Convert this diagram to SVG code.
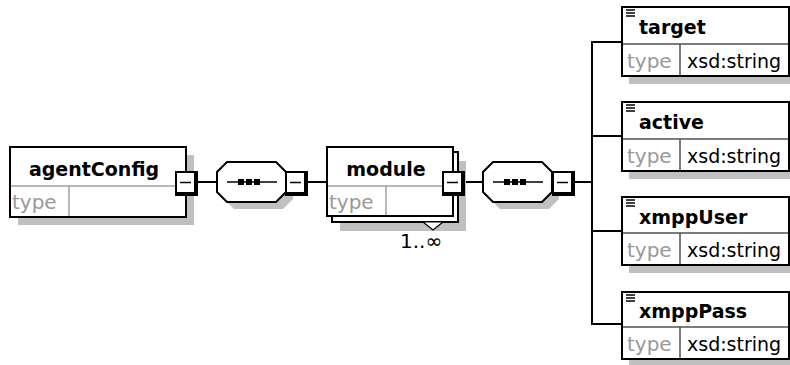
<svg xmlns="http://www.w3.org/2000/svg" xmlns:xlink="http://www.w3.org/1999/xlink" width="790" height="365" viewBox="0 0 790 365">
<style>
  .bg{fill:#ffffff}
  .shadow{fill:#c0c0c0;stroke:none}
  .box{fill:#ffffff;stroke:#000000;stroke-width:2}
  .sep{stroke:#a0a0a0;stroke-width:1.5;fill:none}
  .sepd{stroke:#505050;stroke-width:1.5;fill:none}
  .conn{stroke:#000000;stroke-width:2;fill:none}
  .name{font-family:"DejaVu Sans","Liberation Sans",sans-serif;font-size:19px;font-weight:bold;fill:#000}
  .type{font-family:"DejaVu Sans","Liberation Sans",sans-serif;font-size:20px;fill:#999999}
  .val{font-family:"DejaVu Sans","Liberation Sans",sans-serif;font-size:19px;fill:#000}
  .card{font-family:"DejaVu Sans","Liberation Sans",sans-serif;font-size:20px;fill:#000}
</style>
<defs>
  <g id="minus">
    <rect x="0" y="0" width="23" height="25" fill="#000"/>
    <rect x="2" y="2" width="17" height="19" fill="#fff"/>
    <line x1="5" y1="11.5" x2="16" y2="11.5" stroke="#000" stroke-width="1.5"/>
  </g>
  <g id="seq">
    <polygon points="10,0 59,0 69,10 69,30 59,40 10,40 0,30 0,10" class="box"/>
    <line x1="10" y1="20" x2="60" y2="20" stroke="#000" stroke-width="1.5"/>
    <rect x="21" y="17" width="6" height="6" fill="#000"/>
    <rect x="29" y="17" width="6" height="6" fill="#000"/>
    <rect x="37" y="17" width="6" height="6" fill="#000"/>
  </g>
  <polygon id="seqShadow" points="10,0 59,0 69,10 69,30 59,40 10,40 0,30 0,10" class="shadow"/>
  <g id="icon">
    <line x1="0" y1="0" x2="9" y2="0" stroke="#000" stroke-width="1.5"/>
    <line x1="0" y1="3" x2="9" y2="3" stroke="#000" stroke-width="1.5"/>
    <line x1="0" y1="6" x2="9" y2="6" stroke="#000" stroke-width="1.5"/>
  </g>
</defs>
<rect x="0" y="0" width="790" height="365" class="bg"/>

<g id="connectors">
  <line x1="197" y1="182" x2="217" y2="182" class="conn"/>
  <line x1="307" y1="182" x2="327" y2="182" class="conn"/>
  <line x1="464" y1="182" x2="483" y2="182" class="conn"/>
  <line x1="574" y1="182" x2="593" y2="182" class="conn"/>
  <line x1="592" y1="41" x2="592" y2="325" class="conn"/>
  <line x1="591" y1="42" x2="622" y2="42" class="conn"/>
  <line x1="591" y1="136" x2="622" y2="136" class="conn"/>
  <line x1="591" y1="231" x2="622" y2="231" class="conn"/>
  <line x1="591" y1="324" x2="622" y2="324" class="conn"/>
</g>

<g id="agentConfig">
  <rect x="18" y="155" width="176" height="70" class="shadow"/>
  <rect x="10" y="147" width="176" height="70" class="box"/>
  <line x1="11" y1="186" x2="185" y2="186" class="sep"/>
  <line x1="69" y1="186" x2="69" y2="216" class="sep"/>
  <text x="94" y="176" class="name" text-anchor="middle">agentConfig</text>
  <text x="12" y="209" class="type">type</text>
  <use xlink:href="#minus" x="175" y="171"/>
</g>

<g id="sequence1">
  <use xlink:href="#seqShadow" x="224" y="169"/>
  <use xlink:href="#seq" x="217" y="162"/>
  <use xlink:href="#minus" x="285" y="171"/>
</g>

<g id="module">
  <rect x="340" y="161" width="126" height="70" class="shadow"/>
  <rect x="332" y="152" width="126" height="70" class="box"/>
  <rect x="327" y="147" width="126" height="69" class="box"/>
  <line x1="328" y1="186" x2="452" y2="186" class="sep"/>
  <line x1="386" y1="186" x2="386" y2="215" class="sep"/>
  <text x="386" y="176" class="name" text-anchor="middle">module</text>
  <text x="329" y="209" class="type">type</text>
  <use xlink:href="#minus" x="442" y="171"/>
  <polygon points="423,222 443,222 433,230" fill="#fff" stroke="#000" stroke-width="1.2"/>
  <text x="400" y="248" class="card">1..∞</text>
</g>

<g id="sequence2">
  <use xlink:href="#seqShadow" x="490" y="169"/>
  <use xlink:href="#seq" x="483" y="162"/>
  <use xlink:href="#minus" x="552" y="171"/>
</g>

<g id="target">
  <rect x="629" y="15" width="170" height="69" class="shadow"/>
  <rect x="622" y="7" width="167" height="69" class="box"/>
  <line x1="623" y1="44" x2="788" y2="44" class="sepd"/>
  <line x1="680" y1="44" x2="680" y2="75" class="sepd"/>
  <use xlink:href="#icon" x="626" y="10"/>
  <text x="639" y="34" class="name">target</text>
  <text x="627" y="68" class="type">type</text>
  <text x="687" y="68" class="val">xsd:string</text>
</g>

<g id="active">
  <rect x="629" y="110" width="170" height="69" class="shadow"/>
  <rect x="622" y="102" width="167" height="69" class="box"/>
  <line x1="623" y1="139" x2="788" y2="139" class="sepd"/>
  <line x1="680" y1="139" x2="680" y2="170" class="sepd"/>
  <use xlink:href="#icon" x="626" y="105"/>
  <text x="639" y="129" class="name">active</text>
  <text x="627" y="163" class="type">type</text>
  <text x="687" y="163" class="val">xsd:string</text>
</g>

<g id="xmppUser">
  <rect x="629" y="205" width="170" height="68" class="shadow"/>
  <rect x="622" y="197" width="167" height="68" class="box"/>
  <line x1="623" y1="233" x2="788" y2="233" class="sepd"/>
  <line x1="680" y1="233" x2="680" y2="264" class="sepd"/>
  <use xlink:href="#icon" x="626" y="200"/>
  <text x="639" y="224" class="name">xmppUser</text>
  <text x="627" y="257" class="type">type</text>
  <text x="687" y="257" class="val">xsd:string</text>
</g>

<g id="xmppPass">
  <rect x="629" y="300" width="170" height="67" class="shadow"/>
  <rect x="622" y="292" width="167" height="67" class="box"/>
  <line x1="623" y1="327" x2="788" y2="327" class="sepd"/>
  <line x1="680" y1="327" x2="680" y2="358" class="sepd"/>
  <use xlink:href="#icon" x="626" y="295"/>
  <text x="639" y="318" class="name">xmppPass</text>
  <text x="627" y="351" class="type">type</text>
  <text x="687" y="351" class="val">xsd:string</text>
</g>
</svg>
